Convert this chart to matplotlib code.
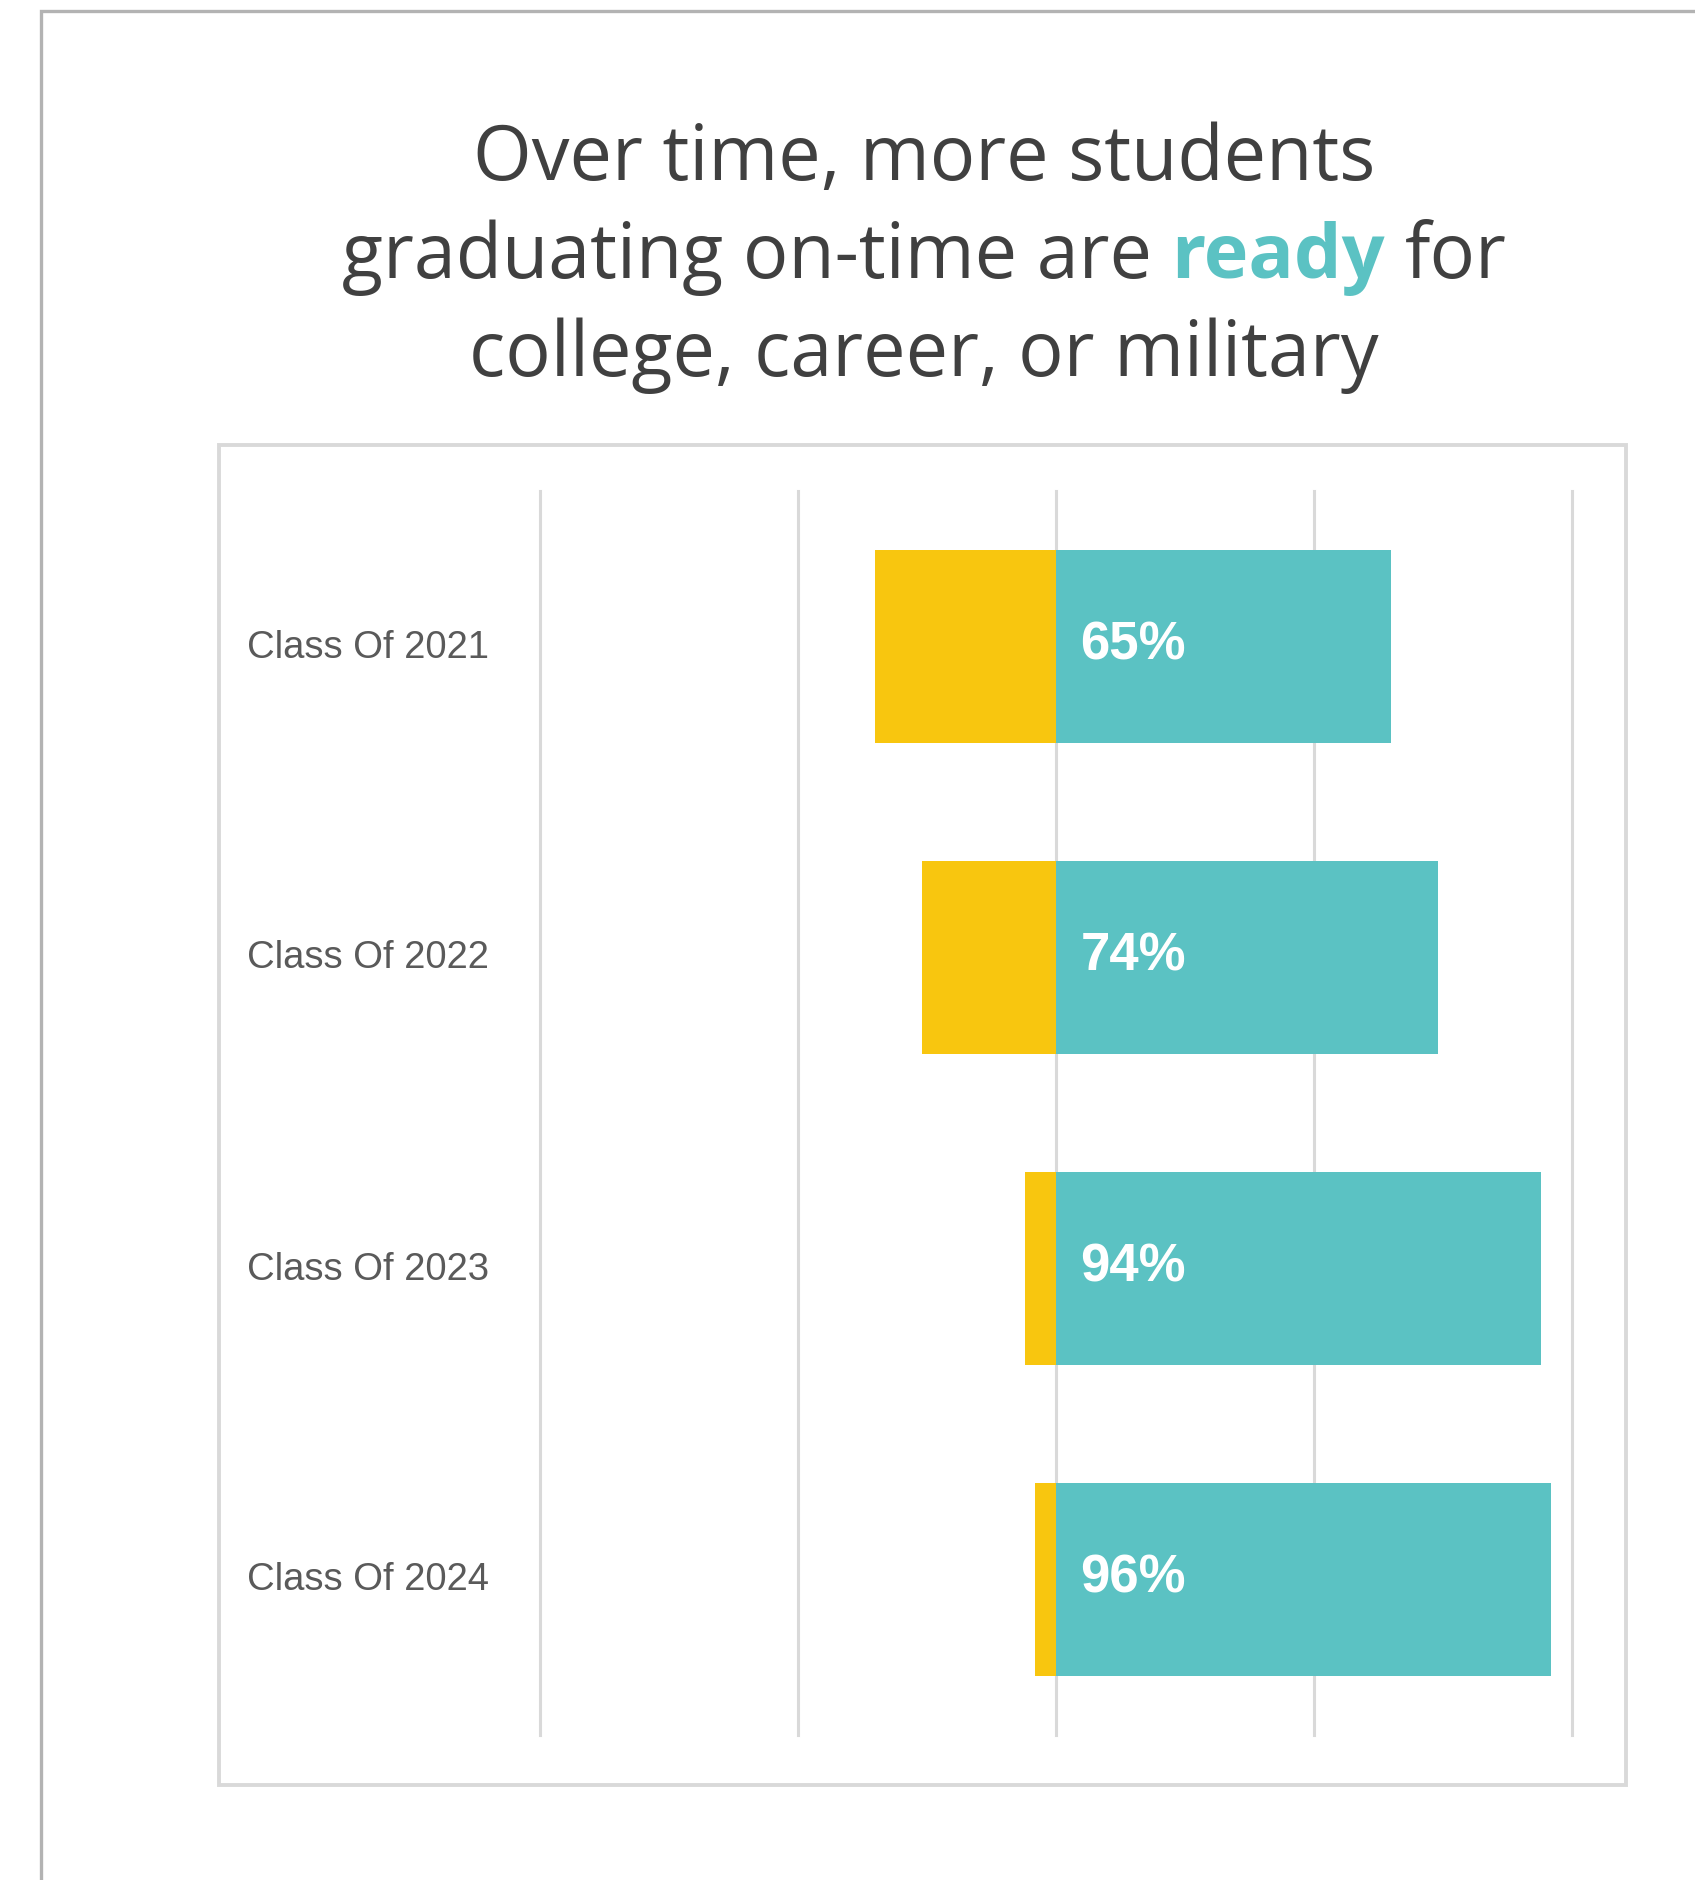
import matplotlib
matplotlib.use('Agg')
import matplotlib.pyplot as plt
import matplotlib.transforms as mtransforms
from matplotlib.lines import Line2D
from matplotlib.patches import Rectangle

# ---------------- data ----------------
categories = ["Class Of 2021", "Class Of 2022", "Class Of 2023", "Class Of 2024"]
ready = [65, 74, 94, 96]
not_ready = [35, 26, 6, 4]
value_labels = ["65%", "74%", "94%", "96%"]
x_ticks = [-100, -50, 0, 50, 100]
title_line1 = "Over time, more students"
title_line2 = ["graduating on-time are", "ready", "for"]
title_line3 = "college, career, or military"

# ---------------- style ----------------
TEAL = '#5BC2C3'
YELLOW = '#F8C60F'
GRID = '#d9d9d9'
TITLE_C = '#404040'
LABEL_C = '#5a5a5a'

W, H = 1695, 1881
DPI = 100
fig = plt.figure(figsize=(W / DPI, H / DPI), dpi=DPI)
fig.patch.set_facecolor('white')


def fx(px):
    return px / W


def fy(py):
    return 1 - py / H


# outer frame (left and top edges visible)
fig.add_artist(Line2D([fx(41), fx(41), 1.0], [0.0, fy(12), fy(12)],
                      color='#b3b3b3', lw=2.4, transform=fig.transFigure,
                      solid_joinstyle='miter'))
# inner chart frame
fig.add_artist(Rectangle((fx(219), fy(1786)), fx(1626) - fx(219), fy(446) - fy(1786),
                         fill=False, edgecolor=GRID, lw=2.8, transform=fig.transFigure))

ax = fig.add_axes([fx(540), fy(1736), fx(1572) - fx(540), fy(492) - fy(1736)])
ax.set_facecolor('none')
ypos = list(range(len(categories)))
ax.set_xlim(-100, 100)
ax.set_ylim(len(categories) - 0.5, -0.5)
for s in ax.spines.values():
    s.set_visible(False)
for xv in x_ticks:
    ax.axvline(xv, color=GRID, lw=2.2, zorder=0, clip_on=False)

ax.barh(ypos, ready, left=0, height=0.62, color=TEAL, zorder=2)
ax.barh(ypos, [-v for v in not_ready], left=0, height=0.62, color=YELLOW, zorder=2)

for y, lab in zip(ypos, value_labels):
    ax.text(4.7, y - 0.005, lab, color='white', fontsize=38, fontweight='bold',
            family='Liberation Sans', va='center', ha='left', zorder=3)

ax.set_xticks([])
ax.set_yticks(ypos)
ax.set_yticklabels(categories, ha='left', fontsize=27.5, color=LABEL_C,
                   family='Liberation Sans')
ax.tick_params(axis='y', length=0, pad=211)
up = mtransforms.ScaledTranslation(0, 4 / DPI, fig.dpi_scale_trans)
for lbl in ax.get_yticklabels():
    lbl.set_transform(lbl.get_transform() + up)

# ---------------- title ----------------
renderer = fig.canvas.get_renderer()
TFONT = 'Open Sans'


def text_w(s, **kw):
    t = fig.text(0, 0, s, **kw)
    w = t.get_window_extent(renderer).width
    t.remove()
    return w


base = 50
w1 = text_w(title_line1, fontsize=base, family=TFONT)
fs = base * 903.0 / w1

cx = 924
fig.text(fx(cx), fy(180), title_line1, fontsize=fs, family=TFONT, color=TITLE_C,
         ha='center', va='baseline')
fig.text(fx(cx), fy(376), title_line3, fontsize=fs, family=TFONT, color=TITLE_C,
         ha='center', va='baseline')

sp = text_w("a a", fontsize=fs, family=TFONT) - text_w("aa", fontsize=fs, family=TFONT)
wa = text_w(title_line2[0], fontsize=fs, family=TFONT)
wb = text_w(title_line2[1], fontsize=fs, family=TFONT, fontweight='bold')
wc = text_w(title_line2[2], fontsize=fs, family=TFONT)
total = wa + sp + wb + sp + wc
x0 = cx - total / 2
fig.text(fx(x0), fy(278), title_line2[0], fontsize=fs, family=TFONT, color=TITLE_C,
         ha='left', va='baseline')
fig.text(fx(x0 + wa + sp), fy(278), title_line2[1], fontsize=fs, family=TFONT,
         fontweight='bold', color=TEAL, ha='left', va='baseline')
fig.text(fx(x0 + wa + sp + wb + sp), fy(278), title_line2[2], fontsize=fs, family=TFONT,
         color=TITLE_C, ha='left', va='baseline')

fig.savefig('out.png', dpi=DPI, facecolor='white')
